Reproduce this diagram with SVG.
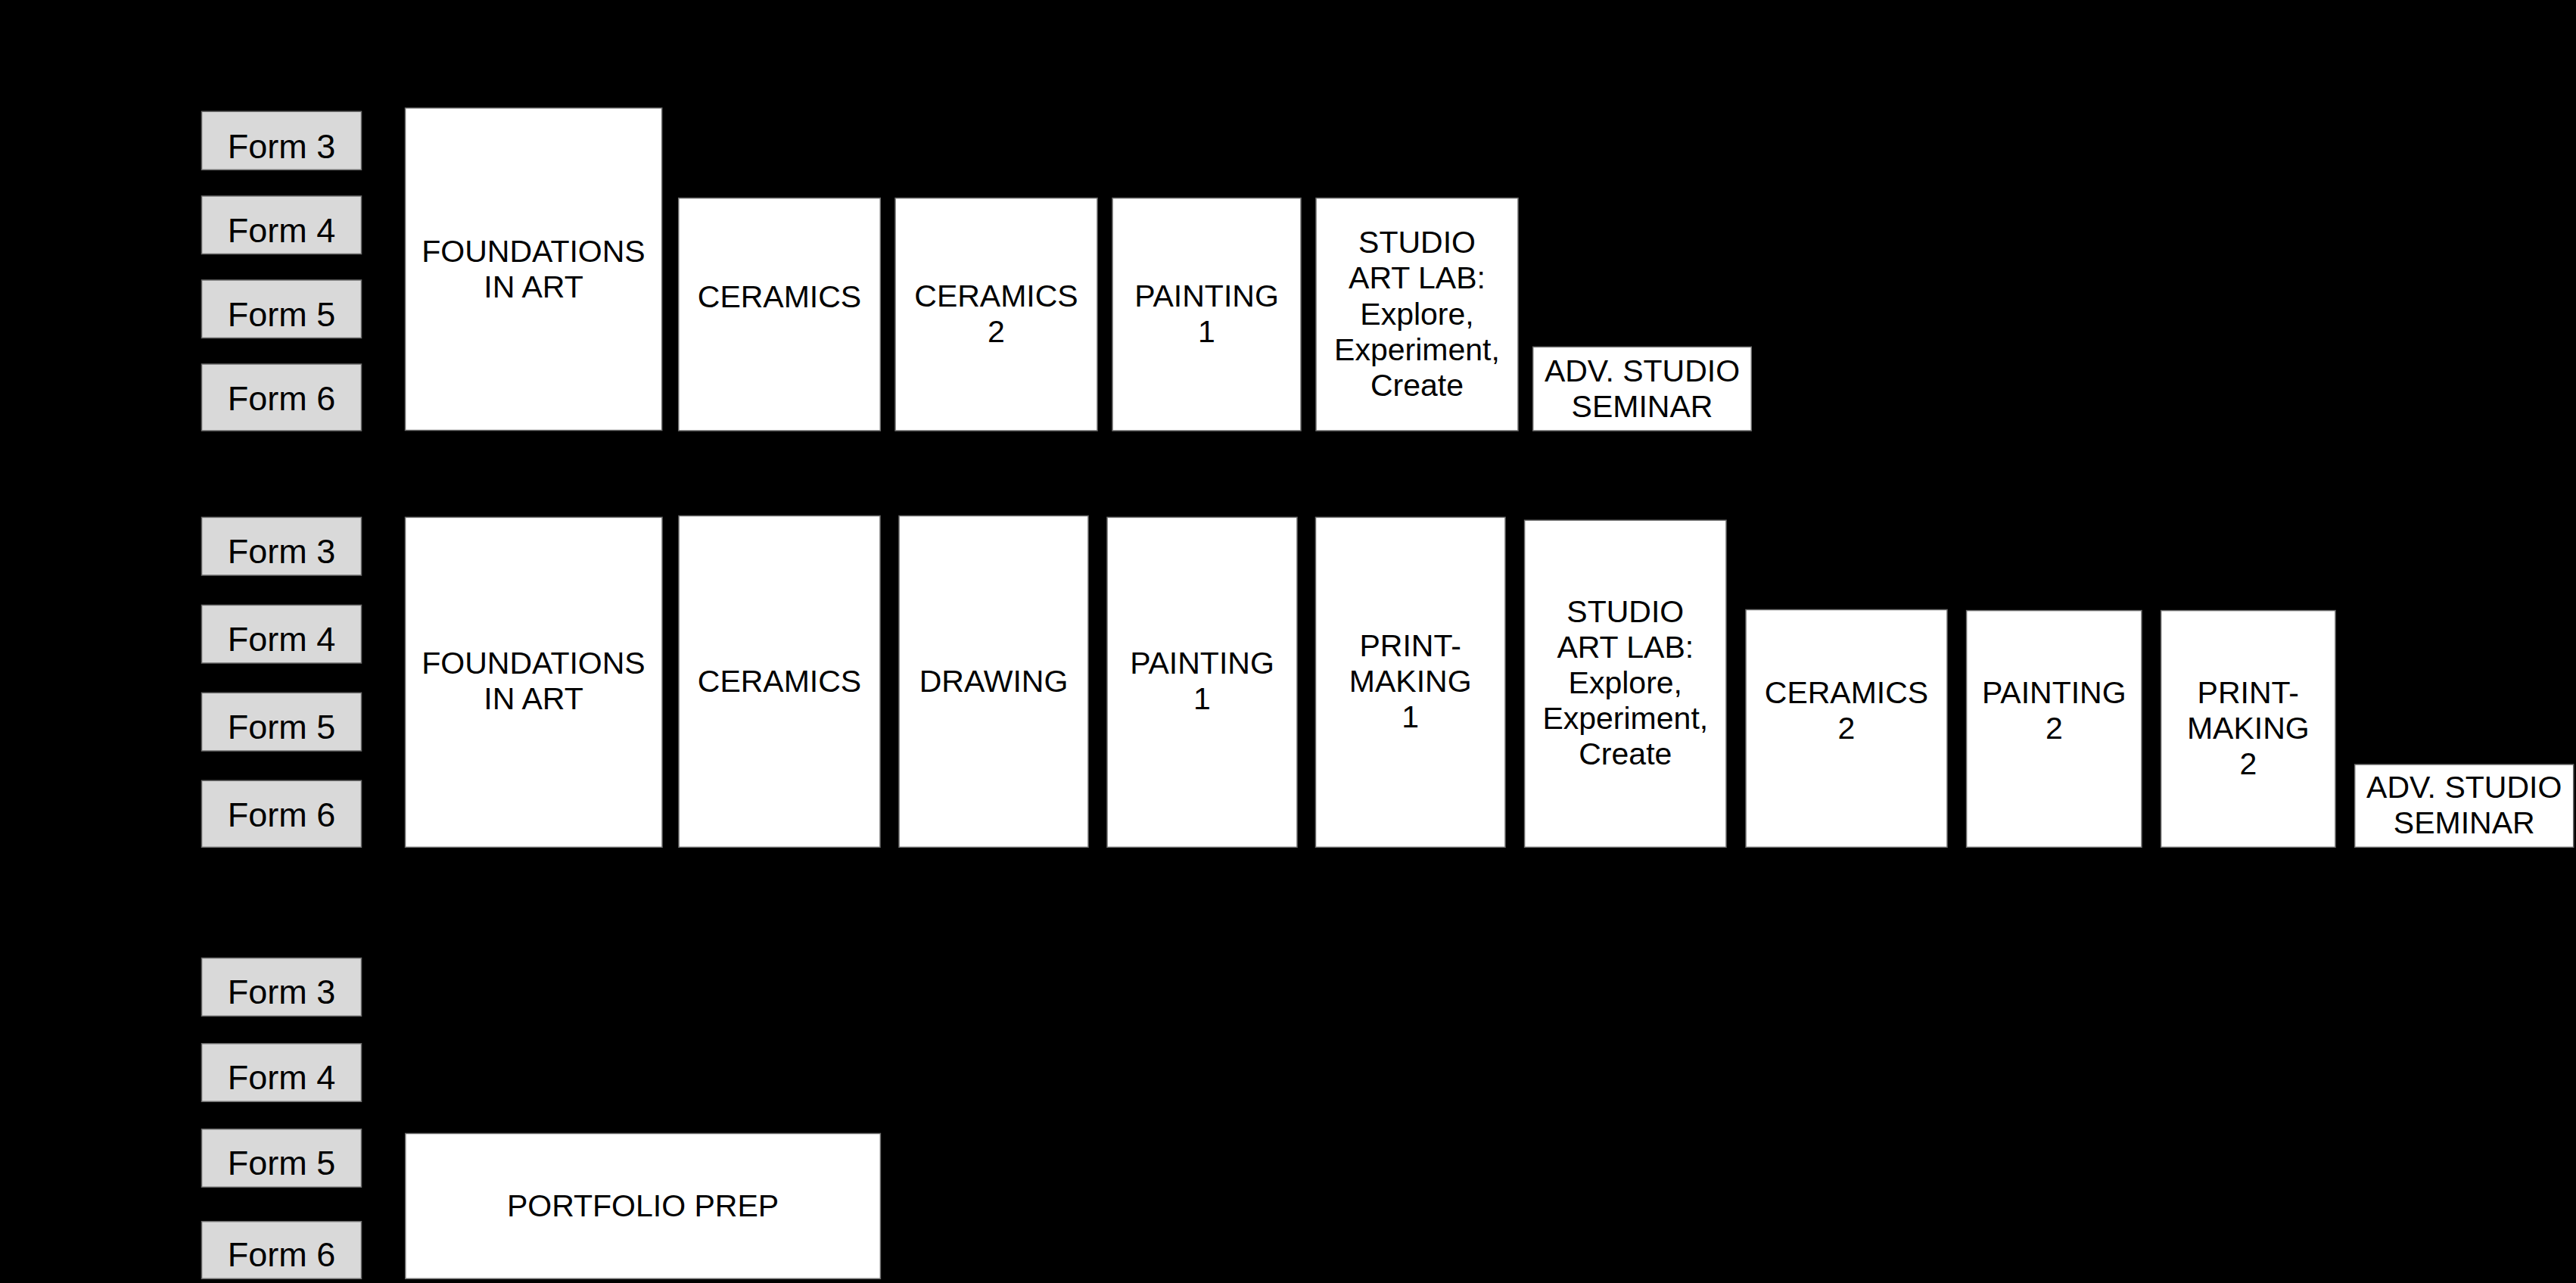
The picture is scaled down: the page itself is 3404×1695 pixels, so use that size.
<svg xmlns="http://www.w3.org/2000/svg" width="3404" height="1695" viewBox="0 0 3404 1695">
<style>
.bg{fill:#000}
.form rect{fill:#d9d9d9;stroke:#6b6b6b;stroke-width:1.5}
.course rect{fill:#fff;stroke:#6b6b6b;stroke-width:1.5}
text{font-family:"Liberation Sans",Arial,Helvetica,sans-serif;fill:#000;text-anchor:middle}
.form text{font-size:45px}
.course text{font-size:41px}
</style>
<rect class="bg" x="0" y="0" width="3404" height="1695"/>
<g id="connectors"></g>

<!-- Section 1 -->
<g id="s1-form3" class="form"><rect x="266.5" y="147.3" width="211" height="77"/><text x="372" y="208.5">Form 3</text></g>
<g id="s1-form4" class="form"><rect x="266.5" y="259" width="211" height="76.5"/><text x="372" y="320">Form 4</text></g>
<g id="s1-form5" class="form"><rect x="266.5" y="370" width="211" height="76.5"/><text x="372" y="431">Form 5</text></g>
<g id="s1-form6" class="form"><rect x="266.5" y="481" width="211" height="88"/><text x="372" y="542">Form 6</text></g>

<g id="s1-foundations" class="course"><rect x="535.5" y="142.7" width="339.2" height="425.8"/><text x="705" y="345.6">FOUNDATIONS</text><text x="705" y="393">IN ART</text></g>
<g id="s1-ceramics" class="course"><rect x="896.7" y="261.7" width="266.6" height="307.3"/><text x="1030" y="405.7">CERAMICS</text></g>
<g id="s1-ceramics2" class="course"><rect x="1183" y="261.7" width="267" height="307.3"/><text x="1316.5" y="404.5">CERAMICS</text><text x="1316.5" y="452">2</text></g>
<g id="s1-painting1" class="course"><rect x="1470" y="261.7" width="249" height="307.3"/><text x="1594.5" y="404.5">PAINTING</text><text x="1594.5" y="452">1</text></g>
<g id="s1-studio" class="course"><rect x="1739" y="261.7" width="267" height="307.3"/><text x="1872.5" y="334.3">STUDIO</text><text x="1872.5" y="381.4">ART LAB:</text><text x="1872.5" y="428.5">Explore,</text><text x="1872.5" y="475.6">Experiment,</text><text x="1872.5" y="522.7">Create</text></g>
<g id="s1-adv" class="course"><rect x="2025.7" y="458.3" width="288.6" height="110.7"/><text x="2170" y="504">ADV. STUDIO</text><text x="2170" y="550.7">SEMINAR</text></g>

<!-- Section 2 -->
<g id="s2-form3" class="form"><rect x="266.5" y="683.4" width="211" height="76.6"/><text x="372" y="743.5">Form 3</text></g>
<g id="s2-form4" class="form"><rect x="266.5" y="799.4" width="211" height="76.6"/><text x="372" y="859.5">Form 4</text></g>
<g id="s2-form5" class="form"><rect x="266.5" y="915.3" width="211" height="76.7"/><text x="372" y="975.5">Form 5</text></g>
<g id="s2-form6" class="form"><rect x="266.5" y="1031.3" width="211" height="88"/><text x="372" y="1091.5">Form 6</text></g>

<g id="s2-foundations" class="course"><rect x="535.5" y="683.4" width="339.5" height="435.9"/><text x="705" y="889.7">FOUNDATIONS</text><text x="705" y="937.3">IN ART</text></g>
<g id="s2-ceramics" class="course"><rect x="897" y="681.5" width="266" height="437.8"/><text x="1030" y="913.8">CERAMICS</text></g>
<g id="s2-drawing" class="course"><rect x="1188" y="681.5" width="250" height="437.8"/><text x="1313" y="913.8">DRAWING</text></g>
<g id="s2-painting1" class="course"><rect x="1463" y="683.4" width="251" height="435.9"/><text x="1588.5" y="890">PAINTING</text><text x="1588.5" y="937">1</text></g>
<g id="s2-printmaking1" class="course"><rect x="1738.5" y="683.4" width="250.5" height="435.9"/><text x="1863.7" y="866.7">PRINT-</text><text x="1863.7" y="913.8">MAKING</text><text x="1863.7" y="961">1</text></g>
<g id="s2-studio" class="course"><rect x="2014.6" y="687.3" width="266.4" height="432"/><text x="2147.8" y="821.5">STUDIO</text><text x="2147.8" y="868.7">ART LAB:</text><text x="2147.8" y="915.9">Explore,</text><text x="2147.8" y="963.1">Experiment,</text><text x="2147.8" y="1010.3">Create</text></g>
<g id="s2-ceramics2" class="course"><rect x="2307" y="805.5" width="266" height="313.8"/><text x="2440" y="929">CERAMICS</text><text x="2440" y="976">2</text></g>
<g id="s2-painting2" class="course"><rect x="2598.6" y="806.6" width="231.4" height="312.7"/><text x="2714.3" y="929">PAINTING</text><text x="2714.3" y="976">2</text></g>
<g id="s2-printmaking2" class="course"><rect x="2855.6" y="806.6" width="230.4" height="312.7"/><text x="2970.8" y="929">PRINT-</text><text x="2970.8" y="976">MAKING</text><text x="2970.8" y="1023">2</text></g>
<g id="s2-adv" class="course"><rect x="3111.7" y="1010" width="289" height="109.3"/><text x="3256.2" y="1054.3">ADV. STUDIO</text><text x="3256.2" y="1101.3">SEMINAR</text></g>

<!-- Section 3 -->
<g id="s3-form3" class="form"><rect x="266.5" y="1265.7" width="211" height="76.6"/><text x="372" y="1325.7">Form 3</text></g>
<g id="s3-form4" class="form"><rect x="266.5" y="1378.7" width="211" height="76.6"/><text x="372" y="1438.7">Form 4</text></g>
<g id="s3-form5" class="form"><rect x="266.5" y="1491.7" width="211" height="76.6"/><text x="372" y="1551.7">Form 5</text></g>
<g id="s3-form6" class="form"><rect x="266.5" y="1613.7" width="211" height="75.6"/><text x="372" y="1672.7">Form 6</text></g>

<g id="s3-portfolio" class="course"><rect x="535.7" y="1497.5" width="627.7" height="191.8"/><text x="849.5" y="1606.7">PORTFOLIO PREP</text></g>
</svg>
